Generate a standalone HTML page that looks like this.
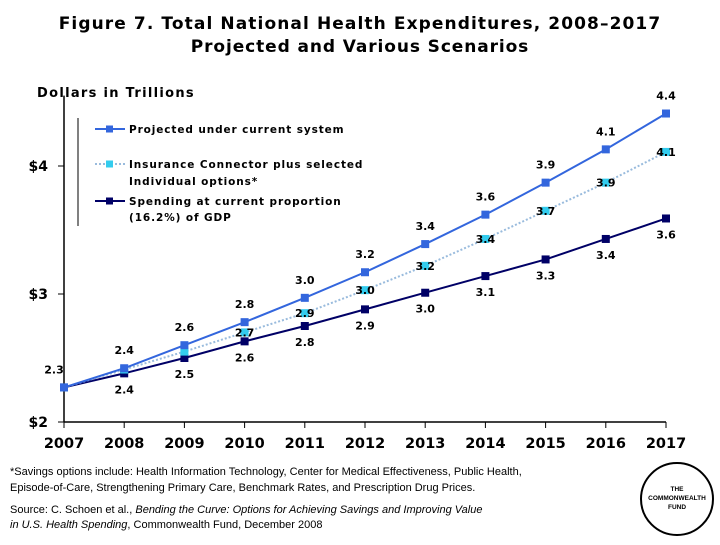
<!DOCTYPE html>
<html><head><meta charset="utf-8"><style>
body{margin:0;background:#fff;width:720px;height:540px;overflow:hidden;font-family:"Liberation Sans",Arial,sans-serif}
svg text{font-family:"Liberation Sans",Arial,sans-serif}
svg text.dv{font-family:"DejaVu Sans","Liberation Sans",sans-serif}
</style></head><body>
<svg id="c" width="720" height="540" viewBox="0 0 720 540">
<text class="dv" x="360" y="29" text-anchor="middle" font-size="17" font-weight="bold" letter-spacing="1.1">Figure 7. Total National Health Expenditures, 2008–2017</text>
<text class="dv" x="360" y="52" text-anchor="middle" font-size="17" font-weight="bold" letter-spacing="0.9">Projected and Various Scenarios</text>
<text class="dv" x="37" y="97" font-size="13" font-weight="bold" letter-spacing="1.3">Dollars in Trillions</text>
<g id="axes"></g>
<g id="series"></g>
<g>
<line x1="78" y1="118" x2="78" y2="226" stroke="#000" stroke-width="1"/>
<line x1="95" y1="129" x2="125" y2="129" stroke="#3366dd" stroke-width="2"/><rect x="106" y="125.5" width="7" height="7" fill="#3366dd"/>
<text class="dv" x="129" y="133" font-size="10.5" font-weight="bold" letter-spacing="0.9">Projected under current system</text>
<line x1="95" y1="164" x2="125" y2="164" stroke="#99bbdd" stroke-width="2" stroke-dasharray="2,2"/><rect x="106" y="160.5" width="7" height="7" fill="#33ccee"/>
<text class="dv" x="129" y="168" font-size="10.5" font-weight="bold" letter-spacing="0.9">Insurance Connector plus selected</text>
<text class="dv" x="129" y="185" font-size="10.5" font-weight="bold" letter-spacing="0.9">Individual options*</text>
<line x1="95" y1="201" x2="125" y2="201" stroke="#000066" stroke-width="2"/><rect x="106" y="197.5" width="7" height="7" fill="#000066"/>
<text class="dv" x="129" y="205" font-size="10.5" font-weight="bold" letter-spacing="0.9">Spending at current proportion</text>
<text class="dv" x="129" y="221" font-size="10.5" font-weight="bold" letter-spacing="0.9">(16.2%) of GDP</text>
</g>
<text x="10" y="475" font-size="11">*Savings options include: Health Information Technology, Center for Medical Effectiveness, Public Health,</text>
<text x="10" y="491" font-size="11">Episode-of-Care, Strengthening Primary Care, Benchmark Rates, and Prescription Drug Prices.</text>
<text x="10" y="513" font-size="11">Source:  C. Schoen et al., <tspan font-style="italic">Bending the Curve: Options for Achieving Savings and Improving Value</tspan></text>
<text x="10" y="528" font-size="11"><tspan font-style="italic">in U.S. Health Spending</tspan>, Commonwealth Fund, December 2008</text>
<g>
<circle cx="677" cy="499" r="36" fill="#fff" stroke="#000" stroke-width="2"/>
<text x="677" y="491" text-anchor="middle" font-size="6.5" font-weight="bold">THE</text>
<text x="677" y="500" text-anchor="middle" font-size="6.5" font-weight="bold">COMMONWEALTH</text>
<text x="677" y="509" text-anchor="middle" font-size="6.5" font-weight="bold">FUND</text>
</g>
</svg>
<script>
const years=[2007,2008,2009,2010,2011,2012,2013,2014,2015,2016,2017];
const projected=[2.27,2.42,2.60,2.78,2.97,3.17,3.39,3.62,3.87,4.13,4.41];
const connector=[2.27,2.41,2.55,2.70,2.85,3.03,3.22,3.43,3.65,3.87,4.11];
const gdp=[2.27,2.38,2.50,2.63,2.75,2.88,3.01,3.14,3.27,3.43,3.59];
const projectedLabels=["2.3","2.4","2.6","2.8","3.0","3.2","3.4","3.6","3.9","4.1","4.4"];
const connectorLabels=["","","","2.7","2.9","3.0","3.2","3.4","3.7","3.9","4.1"];
const gdpLabels=["","2.4","2.5","2.6","2.8","2.9","3.0","3.1","3.3","3.4","3.6"];
const yTicks=[2,3,4];
const yTickLabels=["$2","$3","$4"];
const NS="http://www.w3.org/2000/svg";
const xS=i=>64+i*60.2;
const yS=v=>422-(v-2)*128;
function mk(t,a,p){const e=document.createElementNS(NS,t);for(const k in a)e.setAttribute(k,a[k]);p.appendChild(e);return e;}
const ax=document.getElementById('axes'),se=document.getElementById('series');
let l=mk('line',{x1:64,y1:422,x2:666,y2:422,stroke:'#000','stroke-width':1.5},ax);


l=mk('line',{x1:64,y1:yS(4.55),x2:64,y2:422,stroke:'#000','stroke-width':1.5},ax);


yTicks.forEach((v,i)=>{
 mk('line',{x1:58,y1:yS(v),x2:64,y2:yS(v),stroke:'#000'},ax);
 const t=mk('text',{x:48,y:yS(v)+5,'text-anchor':'end','font-size':14,'font-weight':'bold','class':'dv'},ax);
 t.textContent=yTickLabels[i];
 
 
});
years.forEach((y,i)=>{
 mk('line',{x1:xS(i),y1:422,x2:xS(i),y2:428,stroke:'#000'},ax);
 const t=mk('text',{x:xS(i),y:448,'text-anchor':'middle','font-size':14.5,'font-weight':'bold','class':'dv'},ax);
 t.textContent=y;
 
 
});
function series(vals,col,mcol,dash,name,labels,dy,dxFirst){
 const g=mk('g',{},se);
 
 
 const pl=mk('polyline',{points:vals.map((v,i)=>xS(i)+','+yS(v)).join(' '),fill:'none',stroke:col,'stroke-width':2},g);
 if(dash)pl.setAttribute('stroke-dasharray',dash);
 vals.forEach((v,i)=>{
  const r=mk('rect',{x:xS(i)-4,y:yS(v)-4,width:8,height:8,fill:mcol},g);
  
  
  if(labels[i]){
   const dx=(i==0?dxFirst:0);
   const t=mk('text',{x:xS(i)+dx,y:yS(v)+dy,'text-anchor':'middle','font-size':11,'font-weight':'bold','class':'dv'},g);
   t.textContent=labels[i];
   
   
  }
 });
}
series(gdp,'#000066','#000066',null,'gdp-series',gdpLabels,20,0);
series(connector,'#99bbdd','#33ccee','2,2','connector-series',connectorLabels,4,0);
series(projected,'#3366dd','#3366dd',null,'projected-series',projectedLabels,-14,-10);
</script>
</body></html>
